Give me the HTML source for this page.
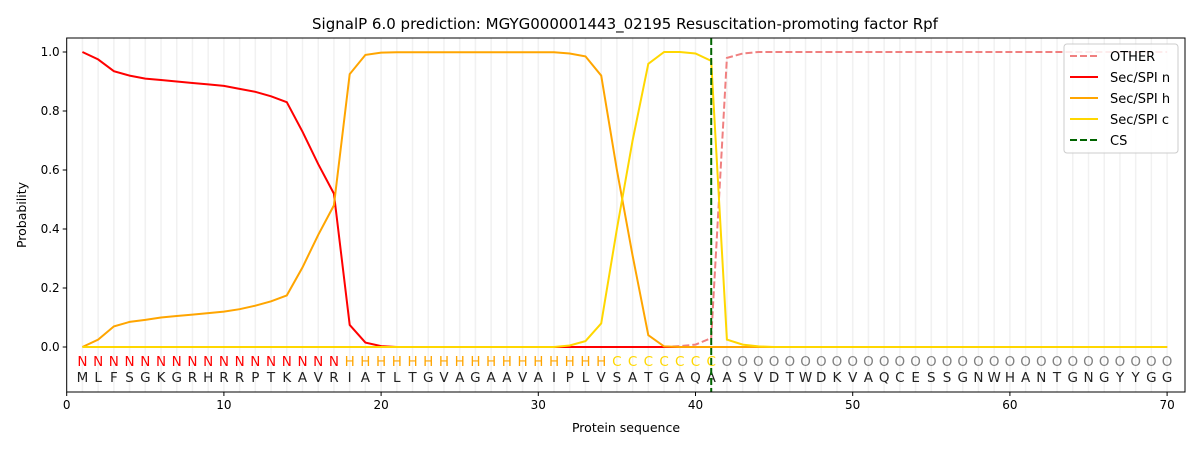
<!DOCTYPE html>
<html><head><meta charset="utf-8"><style>
body{margin:0;background:#fff;}
svg{display:block;font-family:"DejaVu Sans","Liberation Sans",sans-serif;}
</style></head><body>
<svg id="s" width="1200" height="450" xmlns="http://www.w3.org/2000/svg"></svg>
<script>
const s=document.getElementById('s');
const X=v=>66.7+v*15.72, Y=v=>347-v*295;
let h='';
const L=66.7,R=1185,T=38,B=392;
for(let i=1;i<=70;i++)h+=`<line x1="${X(i)}" y1="${T}" x2="${X(i)}" y2="${B}" stroke="#f1f1f1" stroke-width="1.5"/>`;
const seq="MLFSGKGRHRRPTKAVRIATLTGVAGAAVAIPLVSATGAQAASVDTWDKVAQCESSGNWHANTGNGYYGG";
for(let i=1;i<=70;i++){
 let lab,col;
 if(i<=17){lab='N';col='#ff0000'}else if(i<=34){lab='H';col='#ffa500'}else if(i<=41){lab='C';col='#ffd700'}else{lab='O';col='#808080'}
 h+=`<text x="${X(i)}" y="366" font-size="13.5" fill="${col}" text-anchor="middle">${lab}</text>`;
 h+=`<text x="${X(i)}" y="382" font-size="13.5" fill="#222" text-anchor="middle">${seq[i-1]}</text>`;
}
function ser(a){let o=[];for(let i=1;i<=70;i++)o.push(a[i]||0);return o;}
const n={1:1,2:.975,3:.935,4:.92,5:.91,6:.905,7:.9,8:.895,9:.89,10:.885,11:.875,12:.865,13:.85,14:.83,15:.73,16:.62,17:.52,18:.075,19:.015,20:.003};
const hh={2:.025,3:.07,4:.085,5:.092,6:.1,7:.105,8:.11,9:.115,10:.12,11:.128,12:.14,13:.155,14:.175,15:.27,16:.38,17:.48,18:.925,19:.99,20:.998,32:.995,33:.985,34:.92,35:.6,36:.31,37:.04,38:.002};
for(let i=21;i<=31;i++)hh[i]=.999;
const c={32:.005,33:.02,34:.08,35:.4,36:.7,37:.96,38:1,39:1,40:.995,41:.97,42:.025,43:.008,44:.002};
const ot={39:.003,40:.008,41:.03,42:.98,43:.995};for(let i=44;i<=70;i++)ot[i]=1;
function pl(a,col,dash){let p=ser(a).map((v,i)=>X(i+1).toFixed(1)+','+Y(v).toFixed(1)).join(' ');
 return `<polyline points="${p}" fill="none" stroke="${col}" stroke-width="2" ${dash?'stroke-dasharray="7,3"':''}/>`;}
h+=pl(ot,'#f08080',1)+pl(n,'#ff0000')+pl(hh,'#ffa500')+pl(c,'#ffd700');
h+=`<line x1="${X(41)}" y1="${T}" x2="${X(41)}" y2="${B}" stroke="#006400" stroke-width="2" stroke-dasharray="7,3"/>`;
h+=`<rect x="${L}" y="${T}" width="${R-L}" height="${B-T}" fill="none" stroke="#000" stroke-width="1"/>`;
for(let v=0;v<=70;v+=10){h+=`<line x1="${X(v)}" y1="${B}" x2="${X(v)}" y2="${B+4}" stroke="#000"/><text x="${X(v)}" y="${B+17}" font-size="12" text-anchor="middle">${v}</text>`;}
for(let k=0;k<=5;k++){let v=k*0.2;h+=`<line x1="${L-4}" y1="${Y(v)}" x2="${L}" y2="${Y(v)}" stroke="#000"/><text x="${L-7}" y="${Y(v)+4}" font-size="12" text-anchor="end">${v.toFixed(1)}</text>`;}
h+=`<text x="626" y="432" font-size="12.5" text-anchor="middle">Protein sequence</text>`;
h+=`<text transform="translate(26,215) rotate(-90)" font-size="12.5" text-anchor="middle">Probability</text>`;
h+=`<text x="625" y="29" font-size="15" text-anchor="middle">SignalP 6.0 prediction: MGYG000001443_02195 Resuscitation-promoting factor Rpf</text>`;
h+=`<rect x="1064" y="44" width="114" height="109" rx="3" fill="#fff" fill-opacity="0.85" stroke="#ccc"/>`;
const lg=[['OTHER','#f08080',1],['Sec/SPI n','#ff0000'],['Sec/SPI h','#ffa500'],['Sec/SPI c','#ffd700'],['CS','#006400',1]];
lg.forEach((e,i)=>{let y=56+i*21;h+=`<line x1="1070" y1="${y}" x2="1098" y2="${y}" stroke="${e[1]}" stroke-width="2" ${e[2]?'stroke-dasharray="7,3"':''}/><text x="1110" y="${y+5}" font-size="13">${e[0]}</text>`;});
s.innerHTML=h;
</script>
</body></html>
